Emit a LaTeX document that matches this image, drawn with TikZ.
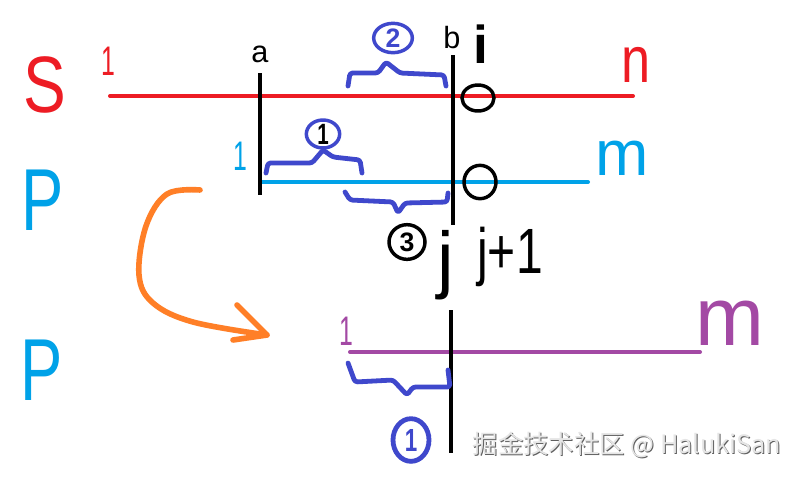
\documentclass[tikz,border=0pt]{standalone}
\usepackage{fontspec}
\setmainfont{Liberation Sans}
\newfontfamily\cjk{Noto Sans CJK SC}
\usetikzlibrary{shapes.geometric}
\definecolor{pred}{HTML}{ED1C24}
\definecolor{pblue}{HTML}{00A2E8}
\definecolor{ppurple}{HTML}{A349A4}
\definecolor{porange}{HTML}{FF7F27}
\definecolor{pindigo}{HTML}{3F48CC}
\newcommand{\fs}[1]{\fontsize{#1}{#1}\selectfont}
\begin{document}
\begin{tikzpicture}[x=0.75pt,y=-0.75pt,
  lbl/.style={inner sep=0pt, anchor=base},
  seg/.style={line width=3pt, line cap=round},
  vbar/.style={line width=3.2pt, black},
  brace/.style={pindigo, line width=3.6pt, line cap=round, line join=round, rounded corners=2pt},
  ring/.style={draw, ellipse, line width=2.6pt, inner sep=0pt},
  num/.style={inner sep=0pt, font=\fs{20pt}\bfseries}]
\useasboundingbox (0,0) rectangle (798,476);
\fill[white] (0,0) rectangle (798,476);

% row labels
\node[lbl, pred, font=\fs{60pt}, xscale=0.8] (S) at (45,112) {S};
\node[lbl, pblue, font=\fs{66pt}, xscale=0.72] (P1) at (43,230) {P};
\node[lbl, pblue, font=\fs{66pt}, xscale=0.72] (P2) at (42,400) {P};

% horizontal lines
\coordinate (rs) at (110,96); \coordinate (re) at (633,96);
\coordinate (bs) at (262,182); \coordinate (be) at (588,182);
\coordinate (ps) at (350,352); \coordinate (pe) at (700,352);
\draw[seg, pred] (rs) -- (re);
\draw[seg, pblue] (bs) -- (be);
\draw[seg, ppurple] (ps) -- (pe);

% end labels
\node[lbl, pred, font=\fs{31pt}, xscale=0.6] (r1) at (108,75) {1};
\node[lbl, pred, font=\fs{49pt}, xscale=0.8] (rn) at (636,82) {n};
\node[lbl, pblue, font=\fs{31pt}, xscale=0.6] (b1) at (240,170) {1};
\node[lbl, pblue, font=\fs{48pt}] (bm) at (622,175) {m};
\node[lbl, ppurple, font=\fs{31pt}, xscale=0.6] (p1) at (346,345) {1};
\node[lbl, ppurple, font=\fs{62pt}] (pm) at (730,345) {m};

% vertical bars
\coordinate (at) at (260,73); \coordinate (ab) at (260,195);
\coordinate (bt) at (453,55); \coordinate (bb) at (453,225);
\coordinate (ct) at (451,310); \coordinate (cb) at (451,453);
\draw[vbar] (at) -- (ab);
\draw[vbar] (bt) -- (bb);
\draw[vbar] (ct) -- (cb);
\node[lbl, font=\fs{23pt}] (la) at (260,62) {a};
\node[lbl, font=\fs{23pt}] (lb) at (452,48) {b};
\node[lbl, font=\fs{40pt}\bfseries] (li) at (481,63) {i};

% circles at intersections
\node[ring, minimum width=24pt, minimum height=19.5pt] (o1) at (478,98) {};
\node[ring, minimum width=24pt, minimum height=25pt] (o2) at (480,182) {};

% j labels
\node[lbl, font=\fs{56pt}] (lj) at (446,284) {j};
\node[lbl, font=\fs{48pt}, xscale=0.75] (lj1) at (510,273) {j+1};

% brace 2 (above red line)
\draw[brace] (348,86) -- (350,73) -- (378,73) -- (386,62) -- (400,73) -- (444,75) -- (446,86);
\node[ring, pindigo, minimum width=29pt, minimum height=22pt] (c2) at (393,38) {};
\node[num, pindigo] at (c2) {2};

% brace 1 (above blue line)
\draw[brace] (266,173) -- (268,163) -- (312,163) -- (323,150) -- (333,157) -- (360,160) -- (362,173);
\node[ring, pindigo, minimum width=25pt, minimum height=21pt] (c1) at (323,134) {};
\node[num, black, font=\fs{22pt}\bfseries, xscale=0.7] at (c1) {1};

% brace 3 (below blue line)
\draw[brace] (345,192) -- (350,200) -- (393,202) -- (398,213) -- (405,203) -- (447,202) -- (448,193);
\node[ring, black, minimum width=27pt, minimum height=26pt] (c3) at (407,242) {};
\node[num] at (c3) {3};

% bottom brace (below purple line)
\draw[brace] (348,363) -- (355,382) -- (393,380) -- (407,395) -- (413,387) -- (450,387) -- (448,370);
\node[ring, pindigo, draw=pindigo, line width=3.6pt, minimum width=27pt, minimum height=32pt] (c0) at (411,440) {};
\node[num, pindigo, font=\fs{24pt}\bfseries, xscale=0.7] at (c0) {1};

% orange arrow
\draw[porange, line width=4.2pt, line cap=round, line join=round]
  plot[smooth, tension=0.6] coordinates {(200,190) (167,194) (146,226) (139,275) (153,303) (193,322) (267,335)};
\draw[porange, line width=4.2pt, line cap=round, line join=round]
  (237,305) -- (267,335) -- (233,340);

% watermark
\node[inner sep=0pt, font=\cjk\fs{19pt}, text=gray!75!black] at (628,446) {掘金技术社区 @ HalukiSan};
\node[inner sep=0pt, font=\cjk\fs{19pt}, text=gray!20] (wm) at (627,445) {掘金技术社区 @ HalukiSan};
\end{tikzpicture}
\end{document}
